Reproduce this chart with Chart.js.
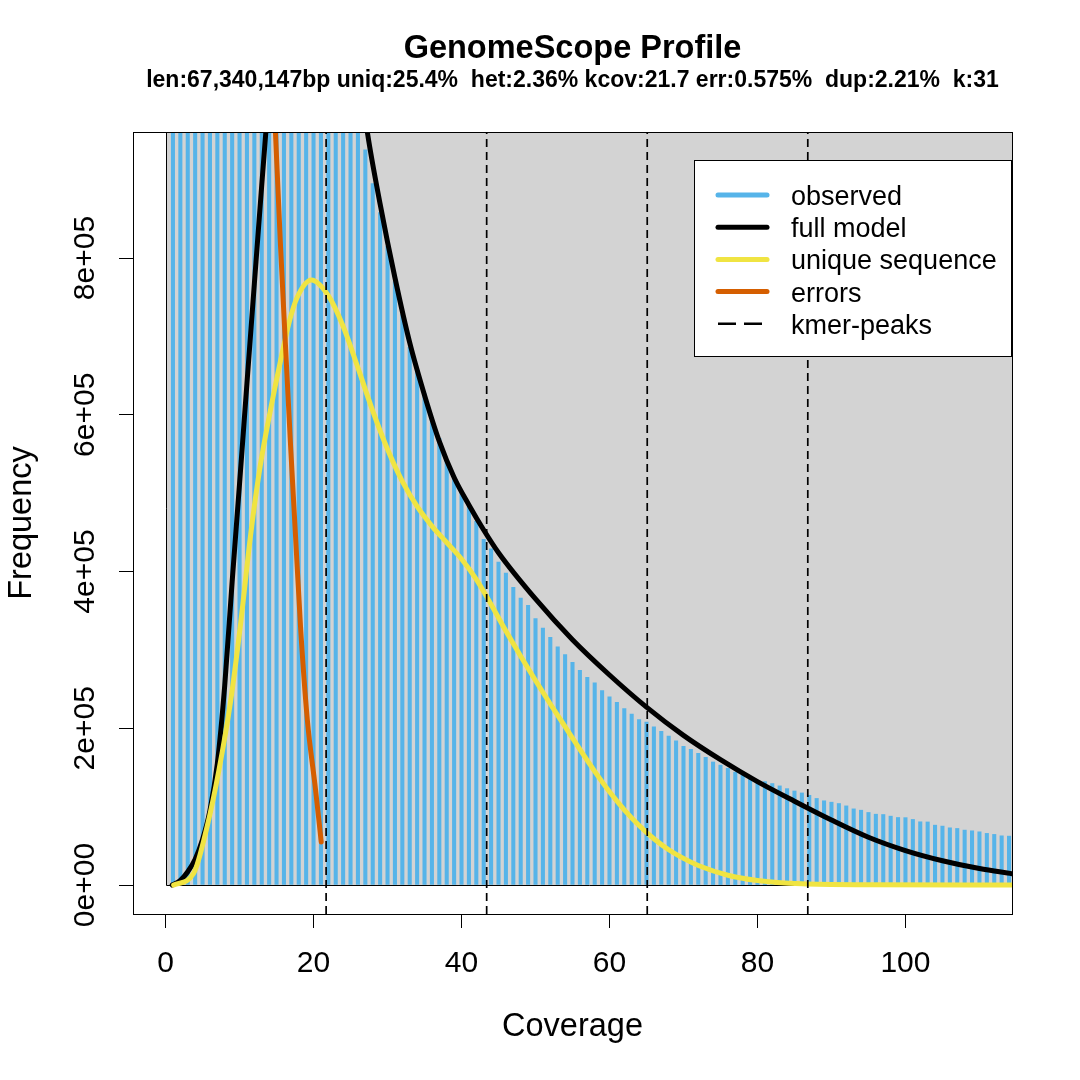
<!DOCTYPE html>
<html>
<head>
<meta charset="utf-8">
<style>
  html, body { margin: 0; padding: 0; background: #fff; }
  canvas { display: block; }
</style>
<script src="https://cdn.jsdelivr.net/npm/chart.js@4"></script>
</head>
<body>
<canvas id="chart" width="1080" height="1080"></canvas>
<script>
// kmer coverage 1..114
const coverage = Array.from({ length: 114 }, (_, i) => i + 1);

// observed histogram (first bars run off the top of the plot, values there are guesses)
const observed = [
  28000000, 14000000, 8500000, 6000000, 4600000, 3800000, 3300000, 3000000, 2800000, 2700000,
  2600000, 2500000, 2350000, 2200000, 2050000, 1900000, 1750000, 1620000, 1550000, 1480000,
  1400000, 1320000, 1230000, 1140000, 1060000, 990000, 938000, 895000, 858000, 815000,
  770000, 728000, 686000, 656000, 627000, 596000, 570000, 542000, 521000, 501000,
  482000, 464000, 441000, 429000, 412000, 398000, 380000, 366000, 357000, 340000,
  328000, 316000, 304000, 294000, 284000, 274000, 265000, 258000, 248000, 240000,
  233000, 225000, 218000, 211000, 208000, 202000, 196000, 190000, 184000, 177000,
  173000, 168000, 163000, 157000, 153000, 149000, 144000, 140000, 136000, 131000,
  132000, 129500, 126500, 123000, 120000, 117500, 114500, 110500, 107500, 105700,
  104000, 101000, 97200, 95500, 92600, 90400, 90000, 87900, 86200, 86000,
  83700, 80700, 80500, 76400, 75200, 73000, 72200, 70100, 69200, 67900,
  65900, 64600, 62800, 62400
];

// full model (top part runs off the plot)
const modelX = [0.9, 2, 3, 4, 5, 6, 7, 8, 9, 10, 11, 12, 13, 14, 16, 18, 20, 22, 24, 26, 27.3,
  29, 31, 33, 35, 37, 39, 41, 43, 45, 50, 55, 60, 65, 70, 75, 80, 85, 90, 95, 100, 105, 110, 114.4];
const modelY = [0, 6000, 17000, 33000, 58000, 95000, 155000, 255000, 387000, 512000, 640000,
  767000, 893000, 1015000, 1260000, 1410000, 1450000, 1360000, 1210000, 1050000, 959000,
  869000, 775000, 692000, 625000, 566000, 520000, 485000, 453000, 424000, 365000, 313000,
  268000, 227000, 191000, 160000, 132000, 107000, 83000, 61000, 44000, 31000, 21000, 14500];

// unique sequence
const uniqX = [1.1, 3.8, 5.6, 7.2, 8.8, 10.1, 11.5, 12.8, 14.2, 15.5, 16.7, 17.8, 19.7, 22, 24,
  26, 28, 30, 32, 34, 36, 38, 40, 42, 44, 46, 48, 50, 52, 54, 56, 58, 60, 62, 64, 66, 68, 70,
  72, 76, 80, 86, 95, 114.4];
const uniqY = [0, 15000, 74000, 146000, 235000, 330000, 447000, 535000, 607000, 667000, 718000,
  750000, 772000, 752000, 713000, 660000, 605000, 556000, 515000, 483000, 458000, 437000,
  416000, 390000, 358000, 324000, 292000, 261000, 231000, 202000, 173000, 145000, 119000,
  96000, 76000, 59000, 45000, 34000, 25000, 12500, 5800, 1600, 400, 0];

// errors
const errX = [14.2, 14.86, 15.54, 16.2, 16.9, 17.57, 18.24, 19.15, 20.27, 21.04];
const errY = [1100000, 959000, 815000, 690000, 560000, 445000, 330000, 212000, 122000, 55000];

// kmer peaks
const kmerPeaks = [21.7, 43.4, 65.1, 86.8];

const xTicks = [0, 20, 40, 60, 80, 100];
const yTicks = [0, 200000, 400000, 600000, 800000];
const yTickLabels = ['0e+00', '2e+05', '4e+05', '6e+05', '8e+05'];
const xRange = [-4.4, 114.4];
const yRange = [-36954, 960812];

const legendLabels = ['observed', 'full model', 'unique sequence', 'errors', 'kmer-peaks'];
const titleText = 'GenomeScope Profile';
const subtitleText = 'len:67,340,147bp uniq:25.4%  het:2.36% kcov:21.7 err:0.575%  dup:2.21%  k:31';

const FONT = '"Liberation Sans", Arial, sans-serif';
const colors = {
  hist: '#56B4E9',
  model: '#000000',
  uniq: '#F0E442',
  err: '#D55E00',
  peak: '#000000',
  bg: '#D3D3D3'
};

const pts = (xs, ys) => xs.map((x, i) => ({ x, y: ys[i] }));

function curve(xs, ys, color, order) {
  return {
    type: 'line',
    data: pts(xs, ys),
    borderColor: color,
    borderWidth: 5,
    borderCapStyle: 'round',
    borderJoinStyle: 'round',
    cubicInterpolationMode: 'monotone',
    pointRadius: 0,
    fill: false,
    clip: 0,
    order
  };
}

const datasets = [
  {
    type: 'bar',
    data: pts(coverage, observed),
    backgroundColor: colors.hist,
    borderWidth: 0,
    barThickness: 3.4,
    clip: 0,
    order: 10
  },
  curve(modelX, modelY, colors.model, 9),
  curve(uniqX, uniqY, colors.uniq, 8),
  curve(errX, errY, colors.err, 7)
];
kmerPeaks.forEach(p => {
  datasets.push({
    type: 'line',
    data: [{ x: p, y: yRange[0] }, { x: p, y: yRange[1] }],
    borderColor: colors.peak,
    borderWidth: 1.7,
    borderDash: [8, 5],
    pointRadius: 0,
    fill: false,
    clip: 0,
    order: 1
  });
});

// grey box from (0,0) up and right, like rect() in R
const bgPlugin = {
  id: 'bg',
  beforeDatasetsDraw(chart) {
    const { ctx, chartArea: a, scales: { x, y } } = chart;
    const x0 = Math.round(x.getPixelForValue(0));
    const y0 = Math.round(y.getPixelForValue(0));
    ctx.save();
    ctx.beginPath();
    ctx.rect(a.left, a.top, a.width, a.height);
    ctx.clip();
    ctx.fillStyle = colors.bg;
    ctx.fillRect(x0, a.top, a.right - x0, y0 - a.top);
    ctx.strokeStyle = '#000';
    ctx.lineWidth = 1;
    ctx.beginPath();
    ctx.moveTo(x0 + 0.5, a.top);
    ctx.lineTo(x0 + 0.5, y0 + 0.5);
    ctx.lineTo(a.right, y0 + 0.5);
    ctx.stroke();
    ctx.restore();
  }
};

const decorPlugin = {
  id: 'decor',
  afterDraw(chart) {
    const { ctx, chartArea: a } = chart;
    ctx.save();
    // plot box
    ctx.strokeStyle = '#000';
    ctx.lineWidth = 1;
    ctx.strokeRect(a.left + 0.5, a.top + 0.5, a.width, a.height);

    // legend
    const lx = 694, ly = 160, lw = 317, lh = 196;
    ctx.fillStyle = '#fff';
    ctx.fillRect(lx, ly, lw, lh);
    ctx.strokeRect(lx + 0.5, ly + 0.5, lw, lh);
    const legendColors = [colors.hist, colors.model, colors.uniq, colors.err, colors.peak];
    ctx.font = '27px ' + FONT;
    ctx.textBaseline = 'alphabetic';
    ctx.textAlign = 'left';
    legendLabels.forEach((lab, i) => {
      const yy = 195 + i * 32.2;
      ctx.strokeStyle = legendColors[i];
      if (i === 4) {
        ctx.lineWidth = 2.6;
        ctx.lineCap = 'butt';
        ctx.setLineDash([18, 8]);
      } else {
        ctx.lineWidth = 5;
        ctx.lineCap = 'round';
        ctx.setLineDash([]);
      }
      ctx.beginPath();
      ctx.moveTo(718, yy);
      ctx.lineTo(767, yy);
      ctx.stroke();
      ctx.setLineDash([]);
      ctx.fillStyle = '#000';
      ctx.fillText(lab, 791, yy + 10);
    });

    // titles
    const cx = (a.left + a.right) / 2;
    ctx.textAlign = 'center';
    ctx.fillStyle = '#000';
    ctx.font = 'bold 32.5px ' + FONT;
    ctx.fillText(titleText, cx, 58);
    ctx.font = 'bold 23px ' + FONT;
    ctx.fillText(subtitleText, cx, 87);
    ctx.restore();
  }
};

new Chart(document.getElementById('chart'), {
  type: 'line',
  data: { datasets },
  options: {
    responsive: false,
    animation: false,
    devicePixelRatio: 1,
    events: [],
    layout: { padding: { top: 132, right: 68, bottom: 0, left: 0 } },
    plugins: { legend: { display: false }, tooltip: { enabled: false }, title: { display: false } },
    scales: {
      x: {
        type: 'linear',
        min: xRange[0],
        max: xRange[1],
        offset: false,
        afterBuildTicks: s => { s.ticks = xTicks.map(v => ({ value: v })); },
        afterFit: s => { s.height = 166; },
        grid: { drawOnChartArea: false, drawTicks: true, tickLength: 14, color: '#000', lineWidth: 1, offset: false },
        border: { display: true, color: '#000', width: 1 },
        ticks: { font: { family: FONT, size: 30 }, color: '#000', padding: 18, minRotation: 0, maxRotation: 0, autoSkip: false },
        title: { display: true, text: 'Coverage', font: { family: FONT, size: 32.5 }, color: '#000', padding: { top: 0, bottom: 33 } }
      },
      y: {
        type: 'linear',
        min: yRange[0],
        max: yRange[1],
        afterBuildTicks: s => { s.ticks = yTicks.map(v => ({ value: v })); },
        afterFit: s => { s.width = 133; },
        grid: { drawOnChartArea: false, drawTicks: true, tickLength: 14, color: '#000', lineWidth: 1 },
        border: { display: true, color: '#000', width: 1 },
        ticks: {
          font: { family: FONT, size: 30 }, color: '#000', padding: -9,
          minRotation: 90, maxRotation: 90, crossAlign: 'center', autoSkip: false,
          callback: v => yTickLabels[yTicks.indexOf(v)]
        },
        title: { display: true, text: 'Frequency', font: { family: FONT, size: 32.5 }, color: '#000', padding: { top: 2.5, bottom: 0 } }
      }
    }
  },
  plugins: [bgPlugin, decorPlugin]
});
</script>
</body>
</html>
